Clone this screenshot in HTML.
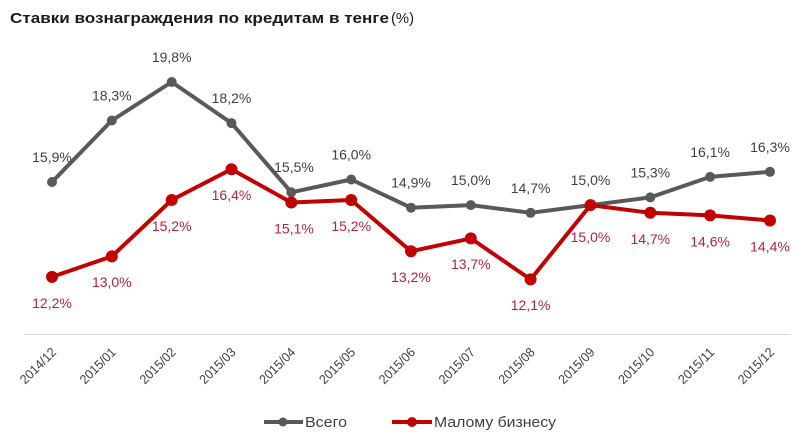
<!DOCTYPE html>
<html>
<head>
<meta charset="utf-8">
<style>
  html, body { margin: 0; padding: 0; background: #ffffff; }
  svg { display: block; }
  text { font-family: "Liberation Sans", "DejaVu Sans", sans-serif; }
</style>
</head>
<body>
<svg width="800" height="439" viewBox="0 0 800 439" xmlns="http://www.w3.org/2000/svg">
  <rect width="800" height="439" fill="#ffffff"/>

  <!-- Title -->
  <text x="10" y="23" font-size="15" font-weight="bold" fill="#1a1a1a" textLength="379" lengthAdjust="spacingAndGlyphs">Ставки  вознаграждения  по кредитам  в тенге</text>
  <text x="391" y="23" font-size="15" fill="#1a1a1a" textLength="23" lengthAdjust="spacingAndGlyphs">(%)</text>

  <!-- Axis line -->
  <line x1="24" y1="334.5" x2="790" y2="334.5" stroke="#d9d9d9" stroke-width="1"/>

  <!-- Gray series -->
  <polyline fill="none" stroke="#595959" stroke-width="4" stroke-linejoin="round"
    points="52,182 111.8,120.5 171.7,82 231.5,123.1 291.3,192.3 351.2,179.5 411,207.7 470.8,205.1 530.6,212.8 590.5,205.1 650.3,197.4 710.1,176.9 770,171.8"/>
  <g fill="#595959">
    <circle cx="52" cy="182" r="5"/>
    <circle cx="111.8" cy="120.5" r="5"/>
    <circle cx="171.7" cy="82" r="5"/>
    <circle cx="231.5" cy="123.1" r="5"/>
    <circle cx="291.3" cy="192.3" r="5"/>
    <circle cx="351.2" cy="179.5" r="5"/>
    <circle cx="411" cy="207.7" r="5"/>
    <circle cx="470.8" cy="205.1" r="5"/>
    <circle cx="530.6" cy="212.8" r="5"/>
    <circle cx="590.5" cy="205.1" r="5"/>
    <circle cx="650.3" cy="197.4" r="5"/>
    <circle cx="710.1" cy="176.9" r="5"/>
    <circle cx="770" cy="171.8" r="5"/>
  </g>

  <!-- Red series -->
  <polyline fill="none" stroke="#c00000" stroke-width="4" stroke-linejoin="round"
    points="52,276.9 111.8,256.4 171.7,200 231.5,169.2 291.3,202.5 351.2,200 411,251.3 470.8,238.4 530.6,279.4 590.5,205.1 650.3,212.8 710.1,215.4 770,220.5"/>
  <g fill="#c00000">
    <circle cx="52" cy="276.9" r="6"/>
    <circle cx="111.8" cy="256.4" r="6"/>
    <circle cx="171.7" cy="200" r="6"/>
    <circle cx="231.5" cy="169.2" r="6"/>
    <circle cx="291.3" cy="202.5" r="6"/>
    <circle cx="351.2" cy="200" r="6"/>
    <circle cx="411" cy="251.3" r="6"/>
    <circle cx="470.8" cy="238.4" r="6"/>
    <circle cx="530.6" cy="279.4" r="6"/>
    <circle cx="590.5" cy="205.1" r="6"/>
    <circle cx="650.3" cy="212.8" r="6"/>
    <circle cx="710.1" cy="215.4" r="6"/>
    <circle cx="770" cy="220.5" r="6"/>
  </g>

  <!-- Gray labels -->
  <g font-size="14" fill="#404040" text-anchor="middle">
    <text x="52" y="162">15,9%</text>
    <text x="111.8" y="100.5">18,3%</text>
    <text x="171.7" y="62">19,8%</text>
    <text x="231.5" y="103">18,2%</text>
    <text x="294" y="172">15,5%</text>
    <text x="351.2" y="159.5">16,0%</text>
    <text x="411" y="187.7">14,9%</text>
    <text x="470.8" y="185">15,0%</text>
    <text x="530.6" y="192.8">14,7%</text>
    <text x="590.5" y="185">15,0%</text>
    <text x="650.3" y="177.4">15,3%</text>
    <text x="710.1" y="157">16,1%</text>
    <text x="770" y="152">16,3%</text>
  </g>

  <!-- Red labels -->
  <g font-size="14" fill="#a8283a" text-anchor="middle">
    <text x="52" y="308">12,2%</text>
    <text x="111.8" y="287">13,0%</text>
    <text x="171.7" y="231">15,2%</text>
    <text x="231.5" y="200">16,4%</text>
    <text x="294" y="233.5">15,1%</text>
    <text x="351.2" y="231">15,2%</text>
    <text x="411" y="282">13,2%</text>
    <text x="470.8" y="269">13,7%</text>
    <text x="530.6" y="310">12,1%</text>
    <text x="590.5" y="242">15,0%</text>
    <text x="650.3" y="244">14,7%</text>
    <text x="710.1" y="246.4">14,6%</text>
    <text x="770" y="251.5">14,4%</text>
  </g>

  <!-- X axis labels -->
  <g font-size="13" fill="#404040" text-anchor="end">
    <text transform="translate(57,353) rotate(-45)" textLength="45" lengthAdjust="spacingAndGlyphs">2014/12</text>
    <text transform="translate(116.8,353) rotate(-45)" textLength="45" lengthAdjust="spacingAndGlyphs">2015/01</text>
    <text transform="translate(176.7,353) rotate(-45)" textLength="45" lengthAdjust="spacingAndGlyphs">2015/02</text>
    <text transform="translate(236.5,353) rotate(-45)" textLength="45" lengthAdjust="spacingAndGlyphs">2015/03</text>
    <text transform="translate(296.3,353) rotate(-45)" textLength="45" lengthAdjust="spacingAndGlyphs">2015/04</text>
    <text transform="translate(356.2,353) rotate(-45)" textLength="45" lengthAdjust="spacingAndGlyphs">2015/05</text>
    <text transform="translate(416,353) rotate(-45)" textLength="45" lengthAdjust="spacingAndGlyphs">2015/06</text>
    <text transform="translate(475.8,353) rotate(-45)" textLength="45" lengthAdjust="spacingAndGlyphs">2015/07</text>
    <text transform="translate(535.6,353) rotate(-45)" textLength="45" lengthAdjust="spacingAndGlyphs">2015/08</text>
    <text transform="translate(595.5,353) rotate(-45)" textLength="45" lengthAdjust="spacingAndGlyphs">2015/09</text>
    <text transform="translate(655.3,353) rotate(-45)" textLength="45" lengthAdjust="spacingAndGlyphs">2015/10</text>
    <text transform="translate(715.1,353) rotate(-45)" textLength="45" lengthAdjust="spacingAndGlyphs">2015/11</text>
    <text transform="translate(775,353) rotate(-45)" textLength="45" lengthAdjust="spacingAndGlyphs">2015/12</text>
  </g>

  <!-- Legend -->
  <line x1="264" y1="422" x2="303" y2="422" stroke="#595959" stroke-width="4"/>
  <circle cx="283" cy="422" r="4.5" fill="#595959"/>
  <text x="305" y="427" font-size="15" fill="#404040" textLength="42" lengthAdjust="spacingAndGlyphs">Всего</text>

  <line x1="392" y1="422" x2="432" y2="422" stroke="#c00000" stroke-width="4"/>
  <circle cx="412" cy="422" r="5" fill="#c00000"/>
  <text x="434" y="427" font-size="15" fill="#404040" textLength="122" lengthAdjust="spacingAndGlyphs">Малому бизнесу</text>
</svg>
</body>
</html>
